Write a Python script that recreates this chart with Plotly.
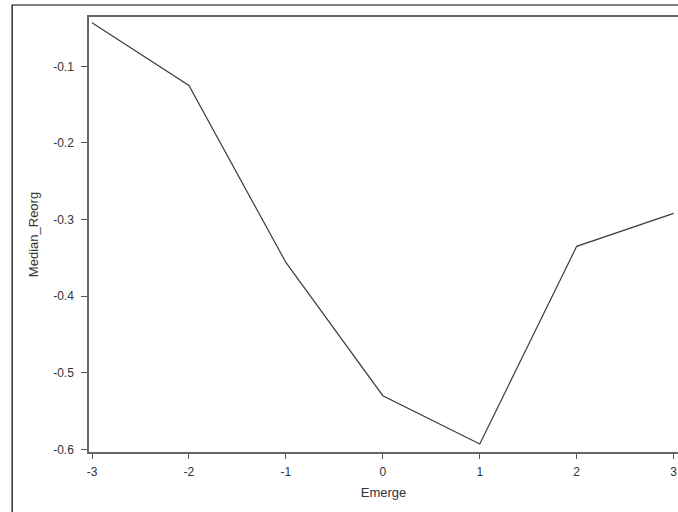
import plotly.graph_objects as go

emerge = [-3, -2, -1, 0, 1, 2, 3]
median_reorg = [-0.043, -0.125, -0.356, -0.530, -0.593, -0.335, -0.292]
x_ticks = [-3, -2, -1, 0, 1, 2, 3]
x_tick_labels = ["-3", "-2", "-1", "0", "1", "2", "3"]
y_ticks = [-0.6, -0.5, -0.4, -0.3, -0.2, -0.1]
y_tick_labels = ["-0.6", "-0.5", "-0.4", "-0.3", "-0.2", "-0.1"]

fig = go.Figure()
fig.add_trace(go.Scatter(
    x=emerge, y=median_reorg, mode="lines",
    line=dict(color="#3c3c3c", width=1.2),
    showlegend=False, hoverinfo="skip", cliponaxis=False))

axis_font = dict(family="Liberation Sans, Arial, sans-serif", size=12, color="#333333")
fig.update_layout(
    width=678, height=512,
    margin=dict(l=89, r=0, t=17, b=60, autoexpand=False),
    paper_bgcolor="white", plot_bgcolor="white",
    font=axis_font,
    xaxis=dict(
        range=[-3.031, 3.045], tickvals=x_ticks, ticktext=x_tick_labels,
        ticks="outside", ticklen=5, tickcolor="#555555", tickwidth=1,
        ticklabelstandoff=3,
        showline=True, linecolor="#666666", linewidth=1.5, mirror=True,
        showgrid=False, zeroline=False,
        title=dict(text="Emerge", font=dict(size=13, color="#333333"), standoff=10),
        tickfont=axis_font),
    yaxis=dict(
        range=[-0.6035, -0.0356], tickvals=y_ticks, ticktext=y_tick_labels,
        ticks="outside", ticklen=6, tickcolor="#555555", tickwidth=1,
        ticklabelstandoff=5,
        showline=True, linecolor="#666666", linewidth=1.5, mirror=False,
        showgrid=False, zeroline=False,
        title=dict(text="Median_Reorg", font=dict(size=13, color="#333333"), standoff=12),
        tickfont=axis_font),
)

fig.add_shape(type="rect", xref="paper", yref="paper",
              x0=-0.1305, x1=1.2, y0=-0.3, y1=1.0276,
              line=dict(color="black", width=1.2), fillcolor="rgba(0,0,0,0)",
              layer="below")

fig.write_html(
    "out.html",
    config={"displayModeBar": False},
    post_script="document.body.style.margin='0';document.body.style.overflow='hidden';"
                "document.documentElement.style.overflow='hidden';")
